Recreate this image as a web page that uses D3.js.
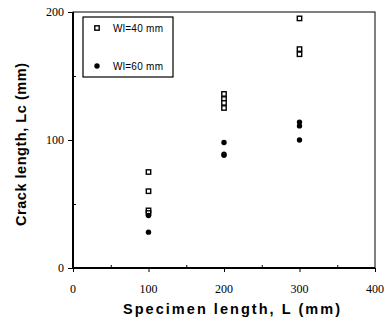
<!DOCTYPE html>
<html>
<head>
<meta charset="utf-8">
<script src="https://cdn.jsdelivr.net/npm/d3@7"></script>
<style>
  body { margin: 0; background: #fff; }
  .tick-label { font-family: "Liberation Serif", "DejaVu Serif", serif; font-size: 12px; }
  .title { font-family: "Liberation Sans", Arial, sans-serif; font-size: 14.5px; font-weight: bold; }
  .legend { font-family: "Liberation Sans", Arial, sans-serif; font-size: 10px; }
</style>
</head>
<body>
<div id="container"></div>
<script>
/* CONSTANTS */
const width = 388;
const height = 324;
const mLeft = 73, mRight = 375, mTop = 12, mBottom = 268;

/* DATA */
const xTicks = [0, 100, 200, 300, 400];
const yTicks = [0, 100, 200];
const seriesNames = ["Wl=40 mm", "Wl=60 mm"];
// Wl=40 mm (open squares)
const w40L = [100, 100, 100, 100, 200, 200, 200, 200, 300, 300, 300];
const w40Lc = [75, 60, 45, 43, 136, 132, 129, 125, 195, 171, 167];
// Wl=60 mm (filled circles)
const w60L = [100, 100, 200, 200, 200, 300, 300, 300];
const w60Lc = [41, 28, 98, 89, 88, 114, 111, 100];

/* SCALES */
const x = d3.scaleLinear().domain([0, 400]).range([mLeft, mRight]);
const y = d3.scaleLinear().domain([0, 200]).range([mBottom, mTop]);

const svg = d3.select("#container").append("svg")
  .attr("width", width).attr("height", height);

// frame
svg.append("rect")
  .attr("x", mLeft).attr("y", mTop)
  .attr("width", mRight - mLeft).attr("height", mBottom - mTop)
  .attr("fill", "none").attr("stroke", "#000").attr("stroke-width", 1);
svg.append("line").attr("x1", mLeft).attr("x2", mLeft).attr("y1", mTop).attr("y2", mBottom)
  .attr("stroke", "#000").attr("stroke-width", 2);
svg.append("line").attr("x1", mLeft).attr("x2", mRight).attr("y1", mBottom).attr("y2", mBottom)
  .attr("stroke", "#000").attr("stroke-width", 2);

// x axis: major ticks outward, minor inward
const xAxis = d3.axisBottom(x).tickValues(xTicks).tickSize(4).tickFormat("");
svg.append("g").attr("transform", `translate(0,${mBottom})`).call(xAxis)
  .call(g => g.select(".domain").remove());
const xMinor = d3.axisTop(x).tickValues([50, 150, 250, 350]).tickSize(3).tickFormat("");
svg.append("g").attr("transform", `translate(0,${mBottom})`).call(xMinor)
  .call(g => g.select(".domain").remove());
svg.selectAll("text.xl").data(xTicks).join("text")
  .attr("class", "tick-label xl")
  .attr("x", d => x(d)).attr("y", mBottom + 25)
  .attr("text-anchor", "middle").text(d => d);

// y axis
const yAxis = d3.axisLeft(y).tickValues(yTicks).tickSize(5).tickFormat("");
svg.append("g").attr("transform", `translate(${mLeft},0)`).call(yAxis)
  .call(g => g.select(".domain").remove());
const yMinor = d3.axisRight(y).tickValues([50, 150]).tickSize(3).tickFormat("");
svg.append("g").attr("transform", `translate(${mLeft},0)`).call(yMinor)
  .call(g => g.select(".domain").remove());
svg.selectAll("text.yl").data(yTicks).join("text")
  .attr("class", "tick-label yl")
  .attr("x", mLeft - 9).attr("y", d => y(d) + 4)
  .attr("text-anchor", "end").text(d => d);

// axis titles
svg.append("text").attr("class", "title")
  .attr("transform", `translate(26,226) rotate(-90)`)
  .attr("textLength", 163).attr("lengthAdjust", "spacing")
  .text("Crack length,  Lc (mm)");
svg.append("text").attr("class", "title")
  .attr("x", 123).attr("y", 314)
  .attr("textLength", 217).attr("lengthAdjust", "spacing")
  .text("Specimen length,   L (mm)");

// points
svg.selectAll("rect.sq").data(w40L).join("rect")
  .attr("class", "sq")
  .attr("x", d => x(d) - 2.2).attr("y", (d, i) => y(w40Lc[i]) - 2.2)
  .attr("width", 4.4).attr("height", 4.4)
  .attr("fill", "#fff").attr("stroke", "#000").attr("stroke-width", 1.4);
svg.selectAll("circle.dot").data(w60L).join("circle")
  .attr("class", "dot")
  .attr("cx", d => x(d)).attr("cy", (d, i) => y(w60Lc[i]))
  .attr("r", 2.7).attr("fill", "#000");

// legend
const lg = svg.append("g").attr("transform", "translate(83,17)");
lg.append("rect").attr("width", 90).attr("height", 60)
  .attr("fill", "#fff").attr("stroke", "#000").attr("stroke-width", 1.2);
lg.append("rect").attr("x", 11.8).attr("y", 8.8).attr("width", 4.4).attr("height", 4.4)
  .attr("fill", "#fff").attr("stroke", "#000").attr("stroke-width", 1.4);
lg.append("circle").attr("cx", 14).attr("cy", 49).attr("r", 2.7).attr("fill", "#000");
lg.selectAll("text").data(seriesNames).join("text")
  .attr("class", "legend")
  .attr("x", 30).attr("y", (d, i) => i === 0 ? 14.5 : 52.5)
  .attr("textLength", 50).attr("lengthAdjust", "spacing")
  .text(d => d);
</script>
</body>
</html>
